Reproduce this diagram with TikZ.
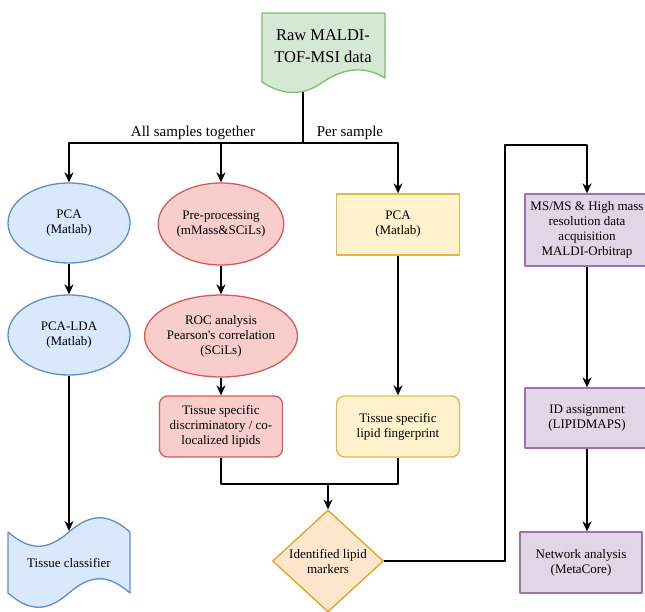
\documentclass[tikz,border=0pt]{standalone}
\usepackage{fontspec}
\setmainfont{Liberation Serif}
\usetikzlibrary{arrows.meta,shapes.geometric}

\definecolor{bluefill}{HTML}{DAE8FC}\definecolor{blueline}{HTML}{5B8FC9}
\definecolor{redfill}{HTML}{F8CECC}\definecolor{redline}{HTML}{D65A5A}
\definecolor{yellowfill}{HTML}{FFF2CC}\definecolor{yellowline}{HTML}{E3B84A}
\definecolor{greenfill}{HTML}{D5E8D4}\definecolor{greenline}{HTML}{7DBE6E}
\definecolor{purplefill}{HTML}{E1D5E7}\definecolor{purpleline}{HTML}{A070B0}
\definecolor{orangefill}{HTML}{FFE6CC}\definecolor{orangeline}{HTML}{E5A11A}

\begin{document}
\begin{tikzpicture}[x=1pt,y=-1pt,line join=round,
  every node/.style={inner sep=1pt,align=center,font=\fontsize{13}{15}\selectfont},
  oval/.style={ellipse,draw,line width=1.3pt,inner sep=0pt,minimum width=122pt,minimum height=80pt},
  box/.style={rectangle,draw,line width=1.3pt,minimum width=123pt,minimum height=61pt},
  roundbox/.style={box,rounded corners=8pt},
  blue/.style={fill=bluefill,draw=blueline},
  red/.style={fill=redfill,draw=redline},
  yellow/.style={fill=yellowfill,draw=yellowline},
  purple/.style={fill=purplefill,draw=purpleline},
  arr/.style={line width=1.4pt,-{Stealth[length=10pt,width=9pt]}},
  lbl/.style={font=\fontsize{15}{17}\selectfont}]
  \useasboundingbox (0,0) rectangle (645,611);
  % Rohdaten oben, dann zwei Wege: alle Proben zusammen / je Probe
  \draw[line width=1.3pt,fill=greenfill,draw=greenline] (262,13) -- (385,13) -- (385,78)
    .. controls (362,64) and (341,70) .. (323,82) .. controls (305,95) and (285,97) .. (262,82) -- cycle;
  \node[font=\fontsize{16.5}{22}\selectfont] (raw) at (323,46) {Raw MALDI-\\TOF-MSI data};
  \coordinate (rawout) at (303,92);
  \coordinate (split) at (303,143);
  \node[lbl] (alltxt) at (193,133) {All samples together};
  \node[lbl] (pertxt) at (350,133) {Per sample};

  \node[oval,blue] (pcal) at (69,223) {PCA\\(Matlab)};
  \node[oval,blue] (pcalda) at (69,335) {PCA-LDA\\(Matlab)};
  \draw[line width=1.3pt,fill=bluefill,draw=blueline] (8,532) .. controls (30,551) and (47,551) .. (69,532)
    .. controls (91,513) and (108,513) .. (130,532) -- (130,593)
    .. controls (108,574) and (91,574) .. (69,593) .. controls (47,612) and (30,612) .. (8,593) -- cycle;
  \node (tc) at (69,563) {Tissue classifier};
  \coordinate (tctop) at (69,531);

  \node[oval,red,minimum width=123pt,minimum height=82pt] (pre) at (221,224) {Pre-processing\\(mMass\&SCiLs)};
  \node[oval,red,minimum width=123pt,minimum height=82pt] (roc) at (221,336) {ROC analysis\\Pearson\textquotesingle s correlation\\(SCiLs)};
  \node[roundbox,red] (tsd) at (221,426.5) {Tissue specific\\discriminatory / co-\\localized lipids};

  \node[box,yellow] (pcar) at (398,224.5) {PCA\\(Matlab)};
  \node[roundbox,yellow] (tlf) at (398,426.5) {Tissue specific\\lipid fingerprint};

  \node[diamond,draw,line width=1.3pt,fill=orangefill,draw=orangeline,inner sep=0pt,
    minimum width=111pt,minimum height=98pt] (ilm) at (328,561) {Identified lipid\\markers};
  \coordinate (merge) at (328,484);
  \coordinate (loop) at (505,145);

  \node[box,purple,minimum width=124pt,minimum height=72pt] (ms) at (587,230) {MS/MS \& High mass\\resolution data\\acquisition\\MALDI-Orbitrap};
  \node[box,purple,minimum width=124pt,minimum height=60pt] (id) at (587,418) {ID assignment\\(LIPIDMAPS)};
  \node[box,purple,minimum width=122pt] (net) at (581,562.5) {Network analysis\\(MetaCore)};

  \draw[line width=1.4pt] (rawout) -- (split);
  \draw[arr] (split) -| (pcal.north);
  \draw[arr] (split) -| (pre.north);
  \draw[arr] (split) -| (pcar.north);
  \draw[arr] (pcal) -- (pcalda);
  \draw[arr] (pcalda) -- (tctop);
  \draw[arr] (pre) -- (roc);
  \draw[arr] (roc) -- (tsd);
  \draw[arr] (pcar) -- (tlf);
  \draw[line width=1.4pt] (tsd.south) |- (merge);
  \draw[line width=1.4pt] (tlf.south) |- (merge);
  \draw[arr] (merge) -- (ilm.north);
  \draw[arr] (ilm.east) -| (loop) -| (ms.north);
  \draw[arr] (ms) -- (id);
  \draw[arr] (id.south) -- (id.south |- net.north);
\end{tikzpicture}
\end{document}
